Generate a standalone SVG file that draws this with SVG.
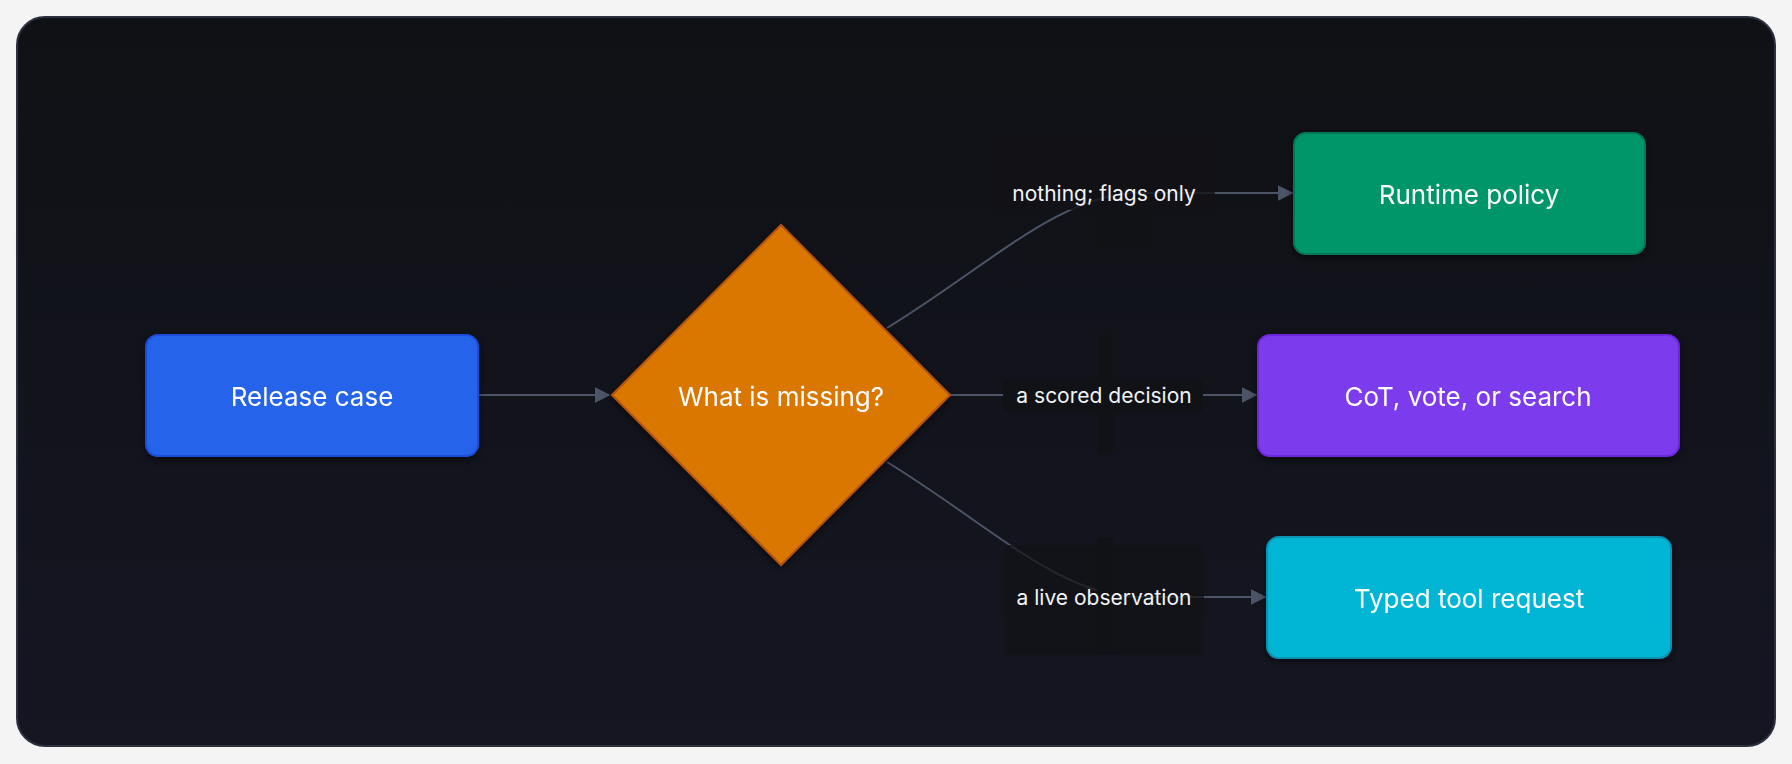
<svg xmlns="http://www.w3.org/2000/svg" width="1792" height="764" viewBox="0 0 1792 764">
<defs>
<linearGradient id="bg" x1="0" y1="0" x2="0" y2="1"><stop offset="0" stop-color="#0f1115"/><stop offset="1" stop-color="#151622"/></linearGradient>
<marker id="arr" viewBox="0 0 10 10" refX="9" refY="5" markerWidth="8" markerHeight="8" orient="auto"><path d="M0,0 L10,5 L0,10 z" fill="#4b5567"/></marker>
<filter id="sh" x="-20%" y="-20%" width="140%" height="160%"><feDropShadow dx="0" dy="3" stdDeviation="4" flood-color="#000" flood-opacity="0.5"/></filter>
</defs>
<style>
.n{font-family:Inter,"Liberation Sans",sans-serif;font-size:26px;fill:#fff;text-anchor:middle;dominant-baseline:central}
.l{font-family:Inter,"Liberation Sans",sans-serif;font-size:21px;fill:#f1f3f6;text-anchor:middle;dominant-baseline:central}
.e{fill:none;stroke:#4b5567;stroke-width:2}
.lb{fill:#111216}
</style>
<rect x="0" y="0" width="1792" height="764" fill="#f4f4f5"/>
<rect x="17" y="17" width="1758" height="729" rx="28" fill="url(#bg)" stroke="#2c3140" stroke-width="2"/>
<g id="connectors">
<path class="e" d="M478,395 L609,395" marker-end="url(#arr)"/>
<path class="e" d="M887,328 C990,265 1060,193 1140,193 L1292,193" marker-end="url(#arr)"/>
<path class="e" d="M950,395 L1256,395" marker-end="url(#arr)"/>
<path class="e" d="M887,462 C990,525 1060,597 1140,597 L1265,597" marker-end="url(#arr)"/>
<rect class="lb" x="990" y="135" width="225" height="75" opacity="0.8"/>
<rect class="lb" x="1095" y="210" width="54" height="40"/>
<text class="l" x="1104" y="193">nothing; flags only</text>
<rect class="lb" x="1098" y="335" width="15" height="118"/>
<rect class="lb" x="1003" y="380" width="200" height="32"/>
<text class="l" x="1104" y="395">a scored decision</text>
<rect class="lb" x="1004" y="545" width="200" height="110" opacity="0.7"/>
<rect class="lb" x="1097" y="537" width="16" height="118"/>
<text class="l" x="1104" y="597">a live observation</text>
</g>
<g id="release" filter="url(#sh)"><rect x="146" y="335" width="332" height="121" rx="12" fill="#2563eb" stroke="#1d4ed8" stroke-width="2"/><text class="n" x="312" y="396">Release case</text></g>
<g id="missing" filter="url(#sh)"><polygon points="781,225 950,395 781,565 612,395" fill="#d97706" stroke="#b45309" stroke-width="2"/><text class="n" x="781" y="396">What is missing?</text></g>
<g id="runtime" filter="url(#sh)"><rect x="1294" y="133" width="351" height="121" rx="12" fill="#059669" stroke="#047857" stroke-width="2"/><text class="n" x="1469" y="194">Runtime policy</text></g>
<g id="cot" filter="url(#sh)"><rect x="1258" y="335" width="421" height="121" rx="12" fill="#7c3aed" stroke="#6d28d9" stroke-width="2"/><text class="n" x="1468" y="396">CoT, vote, or search</text></g>
<g id="tool" filter="url(#sh)"><rect x="1267" y="537" width="404" height="121" rx="12" fill="#06b6d4" stroke="#0891b2" stroke-width="2"/><text class="n" x="1469" y="598">Typed tool request</text></g>
</svg>
